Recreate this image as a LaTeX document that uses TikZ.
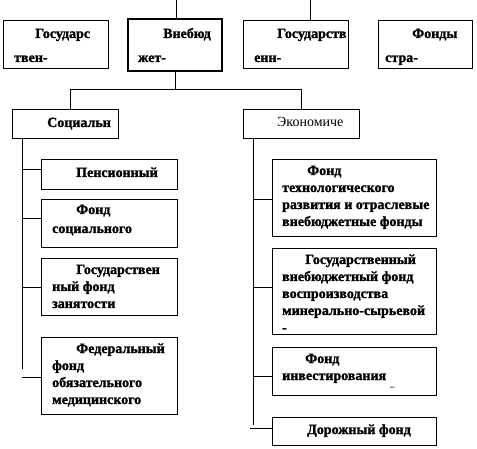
\documentclass[tikz,border=0pt]{standalone}
\usepackage{fontspec}
\setmainfont{Liberation Serif}[BoldFeatures={FakeBold=1.5}]
\begin{document}
\begin{tikzpicture}[x=1pt,y=-1pt,
  box/.style={draw, line width=0.8pt, inner sep=0pt},
  thickbox/.style={draw, line width=2pt, inner sep=0pt},
  link/.style={line width=0.8pt},
  txt/.style={anchor=base west, inner sep=0pt, font=\fontsize{14}{17}\selectfont\bfseries},
  toptxt/.style={anchor=base west, inner sep=0pt, font=\fontsize{14}{24}\selectfont\bfseries},
  regtxt/.style={anchor=base west, inner sep=0pt, font=\fontsize{14}{17}\selectfont}]
\useasboundingbox (0,0) rectangle (477,449);
% top row
\node[box, minimum width=105pt, minimum height=48pt] (b1) at (55.5,44) {};
\node[thickbox, minimum width=94pt, minimum height=52pt] (b2) at (175,45) {};
\node[box, minimum width=105pt, minimum height=48pt] (b3) at (295.5,44) {};
\node[box, minimum width=94pt, minimum height=48pt] (b4) at (425,44) {};
\node[toptxt] (t1) at (14,38) {\vtop{\hbox{\hspace*{21pt}Государс}\hbox{твен-}}};
\node[toptxt] (t2) at (138,38) {\vtop{\hbox{\hspace*{25pt}Внебюд}\hbox{жет-}}};
\node[toptxt] (t3) at (254,38) {\vtop{\hbox{\hspace*{23pt}Государств}\hbox{енн-}}};
\node[toptxt] (t4) at (385,38) {\vtop{\hbox{\hspace*{27pt}Фонды}\hbox{стра-}}};
% second level
\node[box, minimum width=106pt, minimum height=29pt] (soc) at (65,123.5) {};
\node[box, minimum width=116pt, minimum height=29pt] (eco) at (301,123.5) {};
\node[txt] (tsoc) at (47,127) {Социальн};
\node[regtxt] (teco) at (277,127) {Экономиче};
% left column
\node[box, minimum width=136pt, minimum height=30pt] (L1) at (109,174) {};
\node[box, minimum width=136pt, minimum height=48pt] (L2) at (109,223) {};
\node[box, minimum width=136pt, minimum height=57pt] (L3) at (109,286.5) {};
\node[box, minimum width=136pt, minimum height=77pt] (L4) at (109,375.5) {};
\node[txt] (tL1) at (76,177) {Пенсионный};
\node[txt, font=\fontsize{14}{19}\selectfont\bfseries] (tL2) at (52,214) {\vtop{\hbox{\hspace*{24pt}Фонд}\hbox{социального}}};
\node[txt] (tL3) at (52,274) {\vtop{\hbox{\hspace*{24pt}Государствен}\hbox{ный фонд}\hbox{занятости}}};
\node[txt] (tL4) at (52,353) {\vtop{\hbox{\hspace*{24pt}Федеральный}\hbox{фонд}\hbox{обязательного}\hbox{медицинского}}};
% right column
\node[box, minimum width=164pt, minimum height=77pt] (R1) at (354,197.5) {};
\node[box, minimum width=164pt, minimum height=86pt] (R2) at (354,291) {};
\node[box, minimum width=164pt, minimum height=48pt] (R3) at (354,371) {};
\node[box, minimum width=164pt, minimum height=28pt] (R4) at (354,431) {};
\node[txt] (tR1) at (282,175) {\vtop{\hbox{\hspace*{25pt}Фонд}\hbox{технологического}\hbox{развития и отраслевые}\hbox{внебюджетные фонды}}};
\node[txt] (tR2) at (282,264) {\vtop{\hbox{\hspace*{23pt}Государственный}\hbox{внебюджетный фонд}\hbox{воспроизводства}\hbox{минерально-сырьевой}\hbox{-}}};
\node[txt] (tR3) at (282,363) {\vtop{\hbox{\hspace*{23pt}Фонд}\hbox{инвестирования}}};
\node[txt, font=\fontsize{8}{10}\selectfont\bfseries] (tR3b) at (390,389) {--};
\node[txt] (tR4) at (307,434) {Дорожный фонд};
% connectors: top
\coordinate (c2) at (176,0);
\coordinate (c3) at (310,0);
\draw[link] (c2) -- (c2 |- b2.north);
\draw[link] (c3) -- (c3 |- b3.north);
\coordinate (j) at (175,89);
\coordinate (jl) at (70,89);
\coordinate (jr) at (301,89);
\draw[link] (b2.south) -- (j);
\draw[link] (jl) -- (jr);
\draw[link] (jl) -- (jl |- soc.north);
\draw[link] (jr) -- (eco.north);
% left trunk
\coordinate (le) at (22,369);
\draw[link] (le |- soc.south) -- (le);
\coordinate (bl1) at (22,169);
\coordinate (bl2) at (22,218);
\coordinate (bl3) at (22,287);
\coordinate (bl4) at (22,377);
\draw[link] (bl1) -- (bl1 -| L1.west);
\draw[link] (bl2) -- (bl2 -| L2.west);
\draw[link] (bl3) -- (bl3 -| L3.west);
\draw[link] (bl4) -- (bl4 -| L4.west);
% right trunk
\coordinate (re) at (253,425);
\draw[link] (re |- eco.south) -- (re);
\coordinate (br1) at (253,199);
\coordinate (br2) at (253,287);
\coordinate (br3) at (253,376);
\coordinate (br4) at (250,428);
\draw[link] (br1) -- (br1 -| R1.west);
\draw[link] (br2) -- (br2 -| R2.west);
\draw[link] (br3) -- (br3 -| R3.west);
\draw[link] (br4) -- (br4 -| R4.west);
\end{tikzpicture}
\end{document}
